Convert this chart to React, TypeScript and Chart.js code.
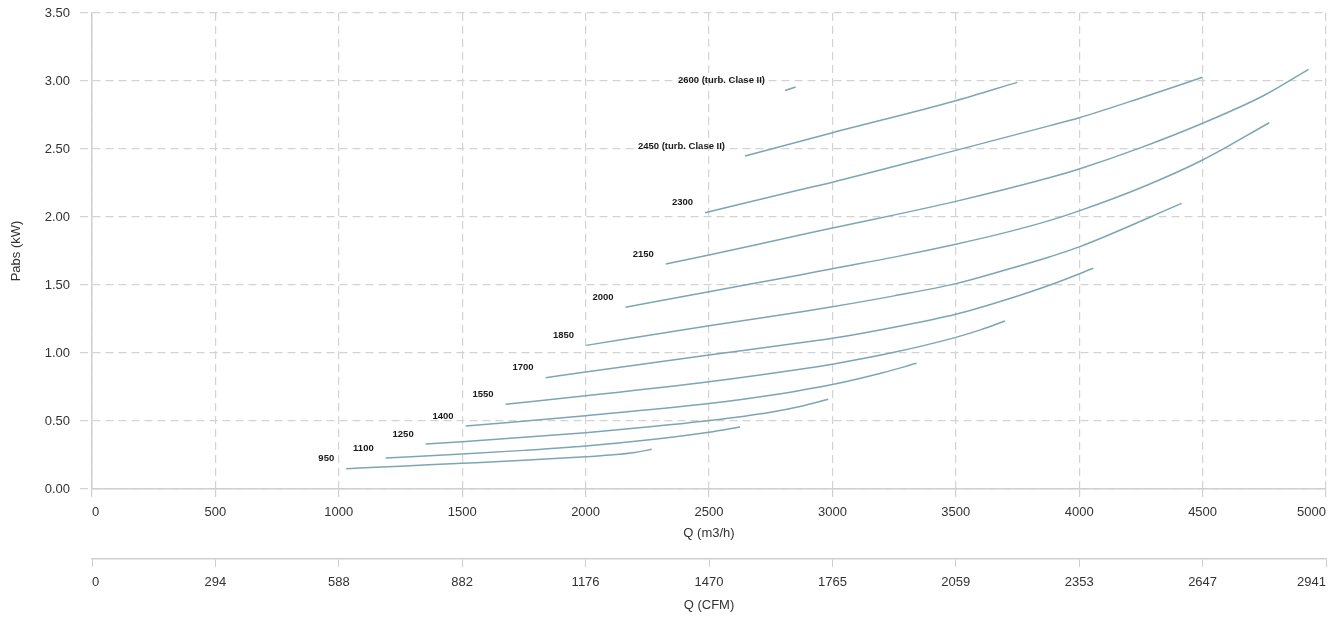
import React, { useEffect, useRef } from 'react';
import { Chart, registerables } from 'chart.js';

Chart.register(...registerables);

// ---- Data ----
const CFM_TICKS = ['0', '294', '588', '882', '1176', '1470', '1765', '2059', '2353', '2647', '2941'];

const CURVE_LABELS = [
  '950', '1100', '1250', '1400', '1550', '1700', '1850', '2000', '2150', '2300',
  '2450 (turb. Clase II)', '2600 (turb. Clase II)',
];

const Q_950 = [1030, 1250, 1500, 1750, 2000, 2100, 2200, 2268];
const P_950 = [0.149, 0.168, 0.189, 0.211, 0.237, 0.25, 0.269, 0.292];

const Q_1100 = [1190, 1500, 1750, 2000, 2250, 2500, 2626];
const P_1100 = [0.228, 0.257, 0.284, 0.316, 0.36, 0.417, 0.456];

const Q_1250 = [1352, 1500, 2000, 2250, 2500, 2750, 2869, 2983];
const P_1250 = [0.331, 0.348, 0.414, 0.455, 0.503, 0.565, 0.607, 0.66];

const Q_1400 = [1514, 2000, 2500, 2750, 2869, 3000, 3200, 3341];
const P_1400 = [0.463, 0.539, 0.628, 0.69, 0.725, 0.768, 0.853, 0.924];

const Q_1550 = [1676, 2000, 2500, 2869, 3000, 3250, 3500, 3600, 3699];
const P_1550 = [0.623, 0.685, 0.789, 0.881, 0.918, 1.005, 1.115, 1.17, 1.235];

const Q_1700 = [1838, 2000, 2500, 2869, 3000, 3250, 3500, 3700, 3882, 4057];
const P_1700 = [0.818, 0.86, 0.985, 1.075, 1.108, 1.19, 1.285, 1.39, 1.5, 1.623];

const Q_1850 = [2002, 2500, 2869, 3000, 3250, 3500, 3700, 3882, 4000, 4415];
const P_1850 = [1.056, 1.2, 1.302, 1.34, 1.42, 1.51, 1.61, 1.708, 1.78, 2.1];

const Q_2000 = [2162, 2500, 2869, 3000, 3250, 3500, 3700, 3882, 4000, 4250, 4500, 4770];
const P_2000 = [1.336, 1.451, 1.574, 1.62, 1.705, 1.8, 1.885, 1.975, 2.045, 2.215, 2.419, 2.693];

const Q_2150 = [2325, 2500, 2869, 3000, 3500, 3882, 4000, 4250, 4500, 4750, 4929];
const P_2150 = [1.654, 1.72, 1.868, 1.919, 2.115, 2.29, 2.353, 2.51, 2.689, 2.895, 3.086];

const Q_2300 = [2484, 2869, 3000, 3500, 3882, 4000, 4250, 4500];
const P_2300 = [2.032, 2.2, 2.256, 2.49, 2.672, 2.73, 2.875, 3.027];

const Q_2450 = [2646, 3000, 3500, 3749];
const P_2450 = [2.449, 2.62, 2.855, 2.99];

const Q_2600 = [2808, 2851];
const P_2600 = [2.93, 2.956];

const CURVE_Q = [Q_950, Q_1100, Q_1250, Q_1400, Q_1550, Q_1700, Q_1850, Q_2000, Q_2150, Q_2300, Q_2450, Q_2600];
const CURVE_P = [P_950, P_1100, P_1250, P_1400, P_1550, P_1700, P_1850, P_2000, P_2150, P_2300, P_2450, P_2600];

// ---- Styles ----
const FONT = 'Arial, "Liberation Sans", sans-serif';
const LINE_COLOR = '#7ca6b4';
const GRID_COLOR = '#d3d3d3';
const AXIS_COLOR = '#cfcfcf';
const TEXT_COLOR = '#333333';
const DASH = [8, 5];

const curveLabelPlugin = {
  id: 'curveLabels',
  afterDatasetsDraw(chart: any) {
    const ctx = chart.ctx;
    ctx.save();
    ctx.font = `bold 9.5px ${FONT}`;
    ctx.fillStyle = '#1a1a1a';
    ctx.textAlign = 'right';
    ctx.textBaseline = 'middle';
    chart.data.datasets.forEach((_ds: any, i: number) => {
      const meta = chart.getDatasetMeta(i);
      const pt = meta.data[0];
      if (!pt) return;
      const text = CURVE_LABELS[i];
      const gap = ctx.measureText(text).width > 40 ? 20 : 12;
      ctx.fillText(text, pt.x - gap, pt.y - 10);
    });
    ctx.restore();
  },
};

export default function App() {
  const canvasRef = useRef<HTMLCanvasElement | null>(null);

  useEffect(() => {
    if (!canvasRef.current) return;
    const datasets = CURVE_Q.map((qs, i) => ({
      label: CURVE_LABELS[i],
      data: qs.map((q, j) => ({ x: q, y: CURVE_P[i][j] })),
      borderColor: LINE_COLOR,
      backgroundColor: LINE_COLOR,
      borderWidth: 1.5,
      pointRadius: 0,
      pointHoverRadius: 0,
      fill: false,
      cubicInterpolationMode: 'monotone' as const,
    }));

    const chart = new Chart(canvasRef.current, {
      type: 'line',
      data: { datasets },
      plugins: [curveLabelPlugin],
      options: {
        animation: false,
        responsive: false,
        devicePixelRatio: 1,
        layout: { padding: { top: 13, right: 16, bottom: 0, left: 0 } },
        plugins: {
          legend: { display: false },
          tooltip: { enabled: false },
        },
        scales: {
          x: {
            type: 'linear',
            position: 'bottom',
            min: 0,
            max: 5000,
            afterFit: (s: any) => { s.height = 70; s.paddingLeft = 0; s.paddingRight = 0; },
            ticks: {
              stepSize: 500,
              align: 'inner',
              maxRotation: 0,
              autoSkip: false,
              padding: 8,
              color: TEXT_COLOR,
              font: { family: FONT, size: 13 },
              callback: (v: any) => String(v),
            },
            grid: {
              color: GRID_COLOR,
              lineWidth: 1.2,
              drawTicks: true,
              tickLength: 8,
              tickColor: AXIS_COLOR,
              tickBorderDash: [],
            },
            border: { display: true, color: AXIS_COLOR, width: 1.5, dash: DASH },
            title: {
              display: true,
              text: 'Q (m3/h)',
              color: TEXT_COLOR,
              font: { family: FONT, size: 13 },
              padding: { top: 0, bottom: 18 },
            },
          },
          x2: {
            type: 'linear',
            position: 'bottom',
            min: 0,
            max: 5000,
            afterFit: (s: any) => { s.height = 58; s.paddingLeft = 0; s.paddingRight = 0; },
            ticks: {
              stepSize: 500,
              align: 'inner',
              maxRotation: 0,
              autoSkip: false,
              padding: 8,
              color: TEXT_COLOR,
              font: { family: FONT, size: 13 },
              callback: (_v: any, i: number) => CFM_TICKS[i] ?? '',
            },
            grid: {
              drawOnChartArea: false,
              drawTicks: true,
              tickLength: 8,
              color: AXIS_COLOR,
              tickColor: AXIS_COLOR,
            },
            border: { display: true, color: AXIS_COLOR, width: 1.5 },
            title: {
              display: true,
              text: 'Q (CFM)',
              color: TEXT_COLOR,
              font: { family: FONT, size: 13 },
              padding: { top: 0, bottom: 4 },
            },
          },
          y: {
            type: 'linear',
            position: 'left',
            min: 0,
            max: 3.5,
            afterFit: (s: any) => { s.width = 92; s.paddingTop = 0; s.paddingBottom = 0; },
            ticks: {
              stepSize: 0.5,
              padding: 10,
              color: TEXT_COLOR,
              font: { family: FONT, size: 13 },
              callback: (v: any) => Number(v).toFixed(2),
            },
            grid: {
              color: GRID_COLOR,
              lineWidth: 1.2,
              drawTicks: true,
              tickLength: 12,
              tickColor: GRID_COLOR,
              tickBorderDash: DASH,
            },
            border: { display: true, color: AXIS_COLOR, width: 1.5, dash: DASH },
            title: {
              display: true,
              text: 'Pabs (kW)',
              color: TEXT_COLOR,
              font: { family: FONT, size: 13 },
              padding: { top: 9, bottom: 0 },
            },
          },
        },
      } as any,
    });

    return () => chart.destroy();
  }, []);

  return (
    <div style={{ position: 'absolute', left: 0, top: 0, width: 1342, height: 617, background: '#ffffff' }}>
      <canvas ref={canvasRef} width={1342} height={617} style={{ display: 'block', width: 1342, height: 617 }} />
    </div>
  );
}
